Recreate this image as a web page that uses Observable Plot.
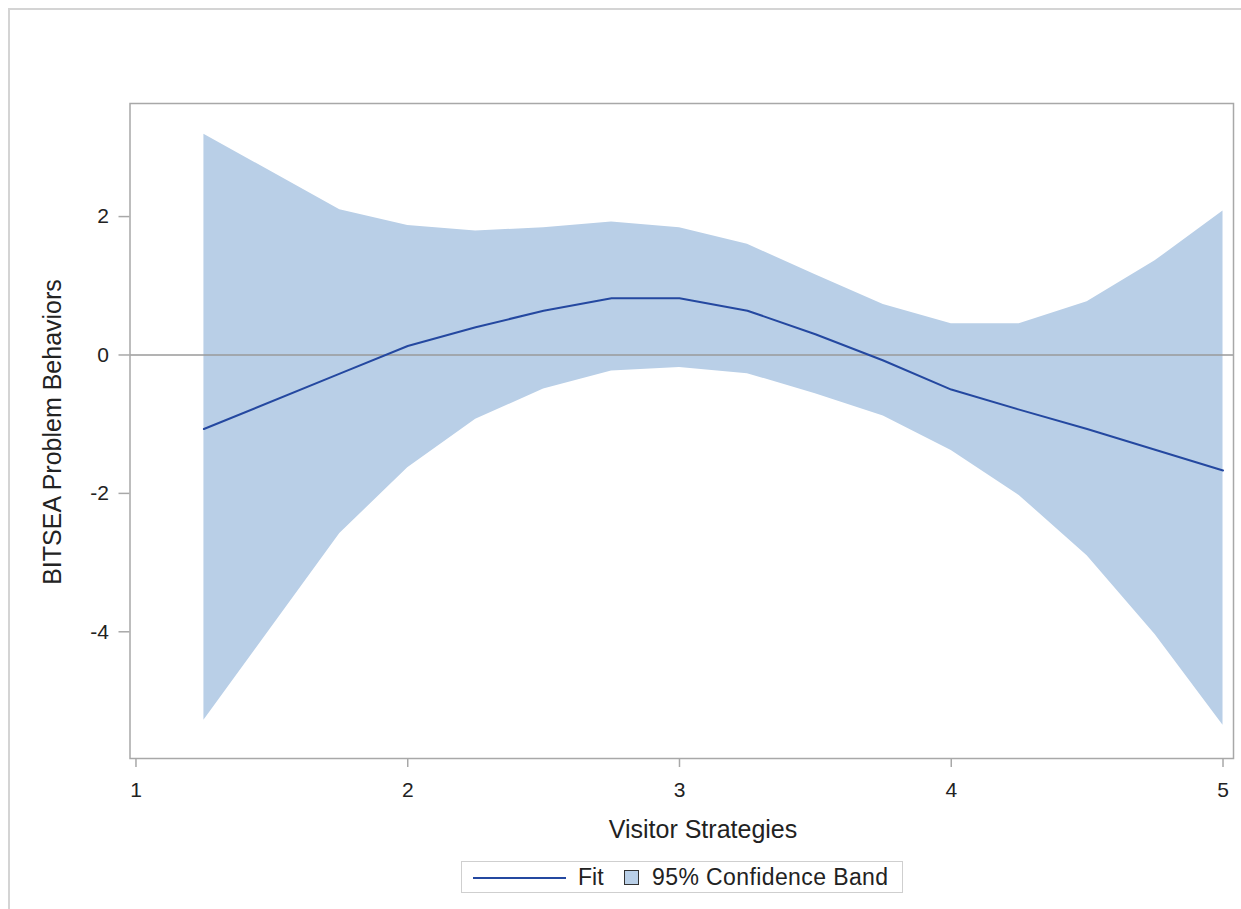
<!DOCTYPE html>
<html>
<head>
<meta charset="utf-8">
<script src="https://cdn.jsdelivr.net/npm/d3@7"></script>
<script src="https://cdn.jsdelivr.net/npm/@observablehq/plot@0.6"></script>
<style>
  html, body { margin: 0; padding: 0; background: #fff; overflow: hidden; }
  body { width: 1241px; height: 909px; position: relative; font-family: "Liberation Sans", Arial, sans-serif; }
  #outer { position: absolute; left: 8px; top: 8px; width: 1400px; height: 1100px; border: 2px solid #d4d4d4; box-sizing: border-box; }
  #chart { position: absolute; left: 0; top: 0; }
  #chart svg text { font-size: 21px; fill: #222; }
  .lab { position: absolute; color: #222; font-size: 25px; white-space: nowrap; }
  #xlab { left: 0; text-align: center; top: 815px; width: 1241px; padding-left: 165px; box-sizing: border-box; }
  #ylab { left: 52px; top: 432px; transform: translate(-50%, -50%) rotate(-90deg); }
  #legend { position: absolute; left: 461px; top: 861px; width: 442px; height: 32px; border: 1px solid #cfcfcf; box-sizing: border-box; font-size: 23px; color: #222; }
  #legend .ln { position: absolute; left: 11px; top: 15px; width: 93px; height: 0; border-top: 2px solid #2448a0; }
  #legend .t1 { position: absolute; left: 116px; top: 2px; }
  #legend .sq { position: absolute; left: 162px; top: 8px; width: 15px; height: 15px; background: #b9cfe7; border: 1.5px solid #333; box-sizing: border-box; }
  #legend .t2 { position: absolute; left: 190px; top: 2px; letter-spacing: 0.4px; }
</style>
</head>
<body>
<div id="outer"></div>
<div id="chart"></div>
<div class="lab" id="xlab">Visitor Strategies</div>
<div class="lab" id="ylab">BITSEA Problem Behaviors</div>
<div id="legend"><div class="ln"></div><span class="t1">Fit</span><div class="sq"></div><span class="t2">95% Confidence Band</span></div>
<script>
const xs    = [1.25, 1.75, 2.0, 2.25, 2.5, 2.75, 3.0, 3.25, 3.5, 3.75, 4.0, 4.25, 4.5, 4.75, 5.0];
const fit   = [-1.07, -0.27, 0.13, 0.40, 0.64, 0.82, 0.82, 0.64, 0.30, -0.08, -0.50, -0.79, -1.07, -1.37, -1.67];
const upper = [3.19, 2.10, 1.87, 1.79, 1.84, 1.92, 1.84, 1.60, 1.16, 0.73, 0.45, 0.45, 0.77, 1.36, 2.08];
const lower = [-5.28, -2.58, -1.63, -0.93, -0.49, -0.23, -0.18, -0.27, -0.56, -0.88, -1.38, -2.03, -2.90, -4.04, -5.35];
const xTicks = [1, 2, 3, 4, 5];
const yTicks = [-4, -2, 0, 2];

const data = xs.map((x, i) => ({x, fit: fit[i], lo: lower[i], hi: upper[i]}));

const chart = Plot.plot({
  width: 1241,
  height: 850,
  marginLeft: 129.5,
  marginRight: 8,
  marginTop: 103,
  marginBottom: 92,
  style: {fontFamily: '"Liberation Sans", Arial, sans-serif', color: "#222", background: "transparent"},
  x: {domain: [0.978, 5.0386]},
  y: {domain: [-5.831, 3.634]},
  marks: [
    Plot.areaY(data, {x: "x", y1: "lo", y2: "hi", fill: "#b9cfe7", fillOpacity: 1}),
    Plot.ruleY([0], {stroke: "#9a9a9a", strokeWidth: 1.5}),
    Plot.line(data, {x: "x", y: "fit", stroke: "#2448a0", strokeWidth: 2}),
    Plot.frame({stroke: "#a8a8a8", strokeWidth: 1.5}),
    Plot.axisX({ticks: xTicks, tickSize: 9, tickPadding: 15, fontSize: 21, label: null, stroke: "#a8a8a8", strokeWidth: 1.5, tickFormat: d => String(d)}),
    Plot.axisY({ticks: yTicks, tickSize: 11, tickPadding: 10, fontSize: 21, label: null, stroke: "#a8a8a8", strokeWidth: 1.5, tickFormat: d => String(d)})
  ]
});
document.getElementById("chart").appendChild(chart);
</script>
</body>
</html>
